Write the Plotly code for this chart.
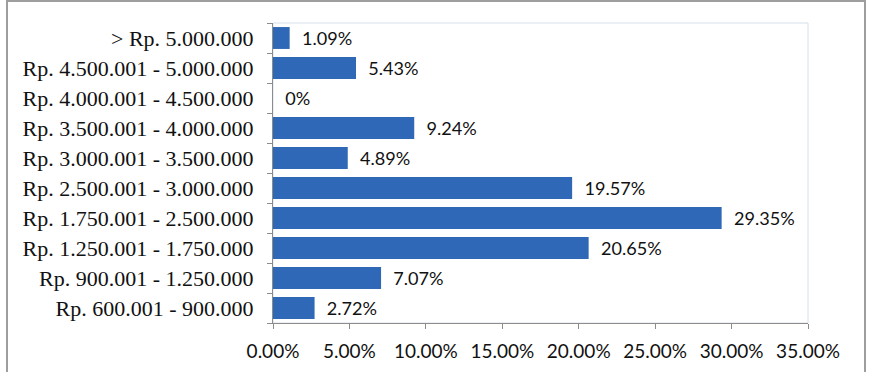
import plotly.graph_objects as go

categories = [
    "Rp. 600.001 - 900.000",
    "Rp. 900.001 - 1.250.000",
    "Rp. 1.250.001 - 1.750.000",
    "Rp. 1.750.001 - 2.500.000",
    "Rp. 2.500.001 - 3.000.000",
    "Rp. 3.000.001 - 3.500.000",
    "Rp. 3.500.001 - 4.000.000",
    "Rp. 4.000.001 - 4.500.000",
    "Rp. 4.500.001 - 5.000.000",
    "> Rp. 5.000.000",
]
values = [2.72, 7.07, 20.65, 29.35, 19.57, 4.89, 9.24, 0, 5.43, 1.09]
labels = ["2.72%", "7.07%", "20.65%", "29.35%", "19.57%", "4.89%", "9.24%", "0%", "5.43%", "1.09%"]
x_ticks = [0, 5, 10, 15, 20, 25, 30, 35]
x_tick_labels = ["0.00%", "5.00%", "10.00%", "15.00%", "20.00%", "25.00%", "30.00%", "35.00%"]

fig = go.Figure(go.Bar(
    y=categories, x=values, orientation="h",
    marker=dict(color="#2F68B6", line=dict(width=0)),
    text=["\u00a0\u00a0" + t for t in labels], textposition="outside", cliponaxis=False,
    textfont=dict(family="Lato, Open Sans, sans-serif", size=19, color="#111111"),
))

fig.update_layout(
    width=871, height=372,
    margin=dict(l=273, r=63, t=23, b=49, autoexpand=False),
    paper_bgcolor="white", plot_bgcolor="white",
    bargap=0.27, showlegend=False,
    xaxis=dict(range=[0, 35], tickvals=x_ticks, ticktext=x_tick_labels, automargin=False,
               showgrid=False, zeroline=False, showline=True, linecolor="#8C8C8C",
               ticks="outside", ticklen=5, tickcolor="#8C8C8C", ticklabelstandoff=6,
               tickfont=dict(family="Lato, Open Sans, sans-serif", size=19, color="#111111")),
    yaxis=dict(showgrid=False, zeroline=False, showline=True, linecolor="#8C8C8C", automargin=False,
               ticks="outside", ticklen=5, tickcolor="#8C8C8C", tickson="boundaries",
               categoryorder="array", categoryarray=categories,
               tickfont=dict(family="Liberation Serif, DejaVu Serif, serif", size=22, color="#111111"),
               ticklabelstandoff=14),
    shapes=[
        dict(type="rect", xref="paper", yref="paper", x0=0, x1=1, y0=0, y1=1,
             line=dict(color="#D6E0EC", width=1), layer="below"),
        dict(type="rect", xref="paper", yref="paper", x0=-266/535, x1=1 + 57/535, y0=-0.2, y1=1 + 22/300,
             line=dict(color="#9E9E9E", width=2), layer="below"),
    ],
)

fig.write_html("out.html")
